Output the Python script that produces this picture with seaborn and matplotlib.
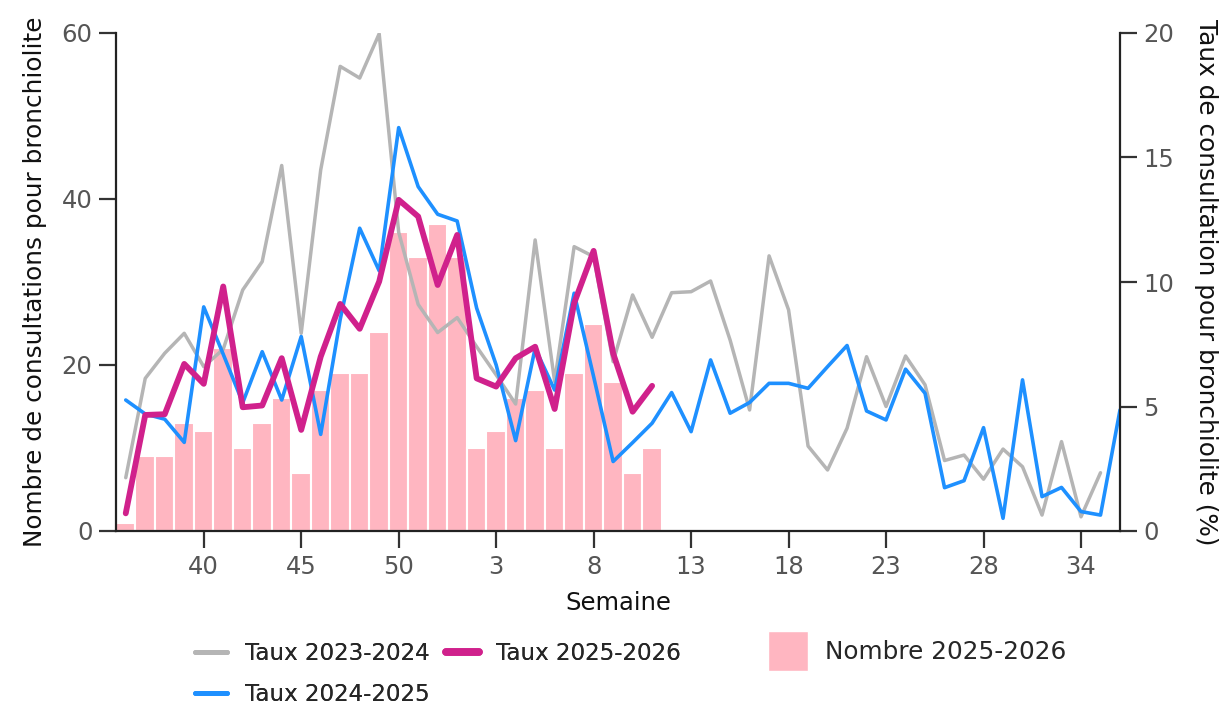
import numpy as np
import pandas as pd
import matplotlib
matplotlib.use("Agg")
import matplotlib.pyplot as plt
import seaborn as sns
from matplotlib.patches import Patch
from matplotlib.lines import Line2D

# ---- data ----
weeks = list(range(36, 53)) + list(range(1, 29)) + list(range(30, 37))
taux_2023_2024 = [2.14, 6.13, 7.14, 7.94, 6.6, 7.3, 9.68, 10.82, 14.68, 7.94,
                  14.5, 18.66, 18.19, 19.97, 12.0, 9.1, 7.97, 8.57, 7.4, 6.27,
                  5.1, 11.69, 6.0, 11.42, 11.02, 6.8, 9.48, 7.78, 9.57, 9.61,
                  10.04, 7.67, 4.86, 11.05, 8.88, 3.41, 2.45, 4.13, 7.0, 5.0,
                  7.03, 5.87, 2.83, 3.05, 2.08, 3.29, 2.58, 0.64, 3.59, 0.57,
                  2.34]
taux_2024_2025 = [5.26, 4.70, 4.49, 3.56, 9.0, 7.1, 5.15, 7.2, 5.26, 7.81,
                  3.88, 8.5, 12.16, 10.45, 16.2, 13.83, 12.72, 12.45, 8.95, 6.67,
                  3.63, 7.34, 5.66, 9.55, 6.2, 2.79, 3.55, 4.33, 5.56, 3.99,
                  6.87, 4.73, 5.16, 5.93, 5.93, 5.73, 6.6, 7.45, 4.82, 4.46,
                  6.5, 5.53, 1.74, 2.02, 4.15, 0.51, 6.07, 1.38, 1.75, 0.78,
                  0.64, 4.86]
taux_2025_2026 = [0.71, 4.66, 4.69, 6.71, 5.91, 9.82, 4.97, 5.04, 6.94, 4.06,
                  7.0, 9.12, 8.12, 10.02, 13.3, 12.63, 9.88, 11.89, 6.13, 5.8,
                  6.94, 7.4, 4.9, 9.15, 11.25, 7.14, 4.79, 5.83]
nombre_2025_2026 = [1, 9, 9, 13, 12, 22, 10, 13, 16, 7, 17, 19, 19, 24, 36, 33,
                    37, 33, 10, 12, 16, 17, 10, 19, 25, 18, 7, 10]
tick_positions = list(range(4, 50, 5))
left_ticks = [0, 20, 40, 60]
right_ticks = [0, 5, 10, 15, 20]

c_grey = "#b5b5b5"
c_blue = "#1e90ff"
c_mag = "#d0218c"
c_bar = "#ffb6c1"

sns.set_theme(style="ticks")
plt.rcParams['font.family'] = ['DejaVu Sans']

fig = plt.figure(figsize=(12.23, 7.06), dpi=100)
ax = fig.add_axes([116/1223, 1-531/706, (1120-116)/1223, (531-33)/706])
ax2 = ax.twinx()

df_bar = pd.DataFrame({"pos": np.arange(len(nombre_2025_2026)), "n": nombre_2025_2026})
sns.barplot(data=df_bar, x="pos", y="n", native_scale=True, width=1.0,
            color=c_bar, saturation=1, edgecolor="white", linewidth=1.5, ax=ax)

for series, col, lw in [(taux_2023_2024, c_grey, 2.5),
                        (taux_2024_2025, c_blue, 2.6),
                        (taux_2025_2026, c_mag, 4.2)]:
    d = pd.DataFrame({"pos": np.arange(len(series)), "v": series})
    sns.lineplot(data=d, x="pos", y="v", color=col, linewidth=lw, ax=ax2,
                 legend=False)

ax.set_xlim(-0.5, 51)
ax.set_ylim(0, 60)
ax2.set_ylim(0, 20)
ax.set_yticks(left_ticks)
ax2.set_yticks(right_ticks)
ax.set_xticks(tick_positions)
ax.set_xticklabels([str(weeks[p]) for p in tick_positions])

for a in (ax, ax2):
    a.spines['top'].set_visible(False)
    for s in a.spines.values():
        s.set_linewidth(1.6)
        s.set_color("#222222")
    a.tick_params(axis='both', length=12, width=1.6, color="#333333",
                  labelsize=17.5, labelcolor="#555555", pad=5)
    a.grid(False)
ax.spines['right'].set_visible(False)
ax2.spines['left'].set_visible(False)
ax2.spines['bottom'].set_visible(False)

ax.set_xlabel("Semaine", fontsize=17.5, color="#111111", labelpad=9)
ax.set_ylabel("Nombre de consultations pour bronchiolite", fontsize=17.8,
              color="#111111", labelpad=10)
ax2.set_ylabel("Taux de consultation pour bronchiolite (%)", fontsize=17.8,
               color="#111111", rotation=270, labelpad=31)

line_handles = [Line2D([], [], color=c_grey, lw=3.5),
                Line2D([], [], color=c_blue, lw=3.5),
                Line2D([], [], color=c_mag, lw=5.5)]
leg1 = fig.legend(line_handles, ["Taux 2023-2024", "Taux 2024-2025", "Taux 2025-2026"],
                  ncol=2, loc="upper left", bbox_to_anchor=(195/1223, 1-642/706),
                  frameon=False, fontsize=16.6, handlelength=1.4, handletextpad=0.75,
                  columnspacing=0.75, labelspacing=0.78, borderpad=0, borderaxespad=0)
leg2 = fig.legend([Patch(facecolor=c_bar, edgecolor="white")], ["Nombre 2025-2026"],
                  loc="upper left", bbox_to_anchor=(768/1223, 1-631/706),
                  frameon=False, fontsize=17.8, handlelength=1.62, handleheight=2.1,
                  handletextpad=0.7, borderpad=0, borderaxespad=0)
fig.add_artist(leg1)

fig.savefig("out.png", dpi=100)
